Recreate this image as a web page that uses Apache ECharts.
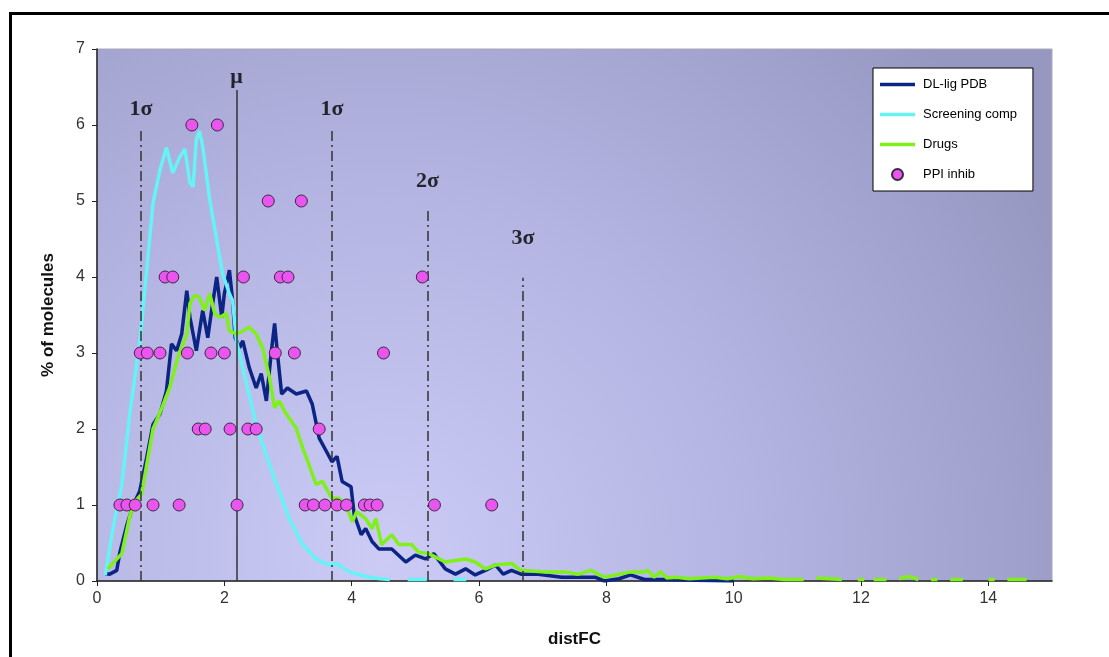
<!DOCTYPE html>
<html>
<head>
<meta charset="utf-8">
<script src="https://cdn.jsdelivr.net/npm/echarts@6/dist/echarts.min.js"></script>
<style>html,body{margin:0;padding:0;background:#fff;}#c{width:1109px;height:657px;}</style>
</head>
<body>
<div id="c"></div>
<script>
// ---- data ----
const xTicks = [0, 2, 4, 6, 8, 10, 12, 14];
const yTicks = [0, 1, 2, 3, 4, 5, 6, 7];

const dlLigPDB = [[0.13,0.1],[0.2,0.09],[0.31,0.14],[0.36,0.38],[0.47,0.74],[0.57,1.0],[0.67,1.18],[0.78,1.62],[0.88,2.06],[0.99,2.2],[1.09,2.5],[1.17,3.12],[1.25,3.03],[1.33,3.25],[1.41,3.82],[1.46,3.47],[1.56,3.03],[1.66,3.56],[1.74,3.2],[1.8,3.56],[1.88,4.0],[1.96,3.47],[2.0,3.78],[2.08,4.09],[2.13,3.69],[2.17,3.2],[2.24,3.07],[2.29,3.16],[2.39,2.81],[2.5,2.54],[2.58,2.73],[2.66,2.37],[2.74,3.03],[2.79,3.39],[2.83,3.03],[2.9,2.46],[2.99,2.54],[3.13,2.46],[3.29,2.5],[3.38,2.33],[3.49,1.88],[3.6,1.71],[3.69,1.57],[3.77,1.64],[3.85,1.31],[3.99,1.24],[4.04,0.87],[4.15,0.61],[4.22,0.69],[4.32,0.52],[4.43,0.42],[4.63,0.42],[4.85,0.25],[5.0,0.34],[5.16,0.29],[5.29,0.36],[5.47,0.16],[5.63,0.09],[5.79,0.16],[5.94,0.08],[6.1,0.14],[6.26,0.21],[6.38,0.09],[6.51,0.14],[6.66,0.09],[6.93,0.09],[7.3,0.05],[7.82,0.05],[7.97,0.0],[8.2,0.03],[8.38,0.08],[8.6,0.02],[9.0,0.02],[9.4,0.01],[10.0,0.0]];

const screeningComp = [[0.13,0.08],[0.25,0.69],[0.39,1.27],[0.52,2.24],[0.67,3.12],[0.72,3.56],[0.78,4.09],[0.88,4.97],[0.99,5.41],[1.09,5.7],[1.19,5.37],[1.3,5.58],[1.38,5.68],[1.46,5.24],[1.51,5.19],[1.56,5.81],[1.61,5.92],[1.66,5.72],[1.77,5.02],[1.88,4.49],[1.97,4.05],[2.08,3.78],[2.13,3.69],[2.19,3.16],[2.35,2.59],[2.5,2.06],[2.71,1.53],[2.86,1.18],[3.02,0.82],[3.23,0.48],[3.44,0.29],[3.65,0.21],[3.76,0.23],[3.96,0.12],[4.27,0.05],[4.45,0.03],[4.6,0.02],[4.7,null],[4.88,0.02],[5.18,0.02],[5.3,null],[5.6,0.02],[5.8,0.02]];

const drugs = [[0.17,0.16],[0.39,0.36],[0.52,0.87],[0.6,1.05],[0.7,1.14],[0.78,1.53],[0.88,2.0],[1.02,2.28],[1.14,2.54],[1.27,2.94],[1.41,3.25],[1.46,3.65],[1.53,3.76],[1.61,3.73],[1.69,3.56],[1.77,3.78],[1.85,3.52],[1.93,3.47],[2.03,3.52],[2.08,3.29],[2.19,3.25],[2.29,3.29],[2.39,3.34],[2.5,3.25],[2.6,3.07],[2.71,2.67],[2.79,2.28],[2.86,2.37],[2.97,2.2],[3.13,2.01],[3.23,1.75],[3.33,1.53],[3.44,1.27],[3.54,1.31],[3.6,1.22],[3.69,1.09],[3.8,1.09],[3.91,1.0],[4.01,0.78],[4.08,0.91],[4.22,0.82],[4.32,0.69],[4.38,0.82],[4.47,0.48],[4.63,0.61],[4.74,0.48],[4.94,0.48],[5.05,0.38],[5.21,0.36],[5.47,0.25],[5.79,0.29],[5.94,0.25],[6.1,0.16],[6.26,0.21],[6.51,0.23],[6.66,0.14],[7.04,0.12],[7.35,0.12],[7.56,0.09],[7.76,0.14],[7.97,0.05],[8.38,0.12],[8.6,0.12],[8.65,0.14],[8.75,0.05],[8.85,0.12],[8.95,0.04],[9.1,0.05],[9.3,0.03],[9.5,0.04],[9.7,0.05],[9.9,0.03],[10.1,0.06],[10.3,0.03],[10.55,0.04],[10.8,0.02],[11.1,0.02],[11.15,null],[11.3,0.04],[11.5,0.03],[11.7,0.02],[11.8,null],[11.95,0.02],[12.05,0.02],[12.1,null],[12.2,0.02],[12.4,0.02],[12.5,null],[12.6,0.03],[12.75,0.06],[12.9,0.02],[13.0,null],[13.1,0.02],[13.2,0.02],[13.3,null],[13.4,0.02],[13.6,0.02],[13.8,null],[14.0,0.02],[14.1,0.02],[14.2,null],[14.3,0.02],[14.6,0.02]];

const ppiInhib = [[1.49,6],[1.89,6],
  [2.69,5],[3.21,5],
  [1.07,4],[1.19,4],[2.30,4],[2.88,4],[3.0,4],[5.11,4],
  [0.68,3],[0.79,3],[0.99,3],[1.42,3],[1.79,3],[2.0,3],[2.8,3],[3.1,3],[4.5,3],
  [1.59,2],[1.70,2],[2.09,2],[2.37,2],[2.5,2],[3.49,2],
  [0.36,1],[0.47,1],[0.6,1],[0.88,1],[1.29,1],[2.2,1],[3.27,1],[3.4,1],[3.58,1],[3.77,1],[3.92,1],[4.2,1],[4.29,1],[4.4,1],[5.3,1],[6.2,1]];

const sigmaNames = ['1σ', 'μ', '1σ', '2σ', '3σ'];
const sigmaX = [0.69, 2.19, 3.69, 5.19, 6.69];
const sigmaTop = [5.96, 6.46, 5.96, 4.91, 3.99];
const sigmaLabelY = [6.2, 6.63, 6.2, 5.26, 4.51];

// ---- chart ----
const chart = echarts.init(document.getElementById('c'));
const serifFont = '"Liberation Serif","DejaVu Serif",serif';
const sansFont = '"Liberation Sans",Arial,sans-serif';
const lineIcon = 'path://M0,0 L35,0 L35,3.5 L0,3.5 Z';

const markLineData = sigmaX.map((x, i) => [
  {coord: [x, 0], lineStyle: {type: sigmaNames[i] === 'μ' ? 'solid' : [10, 4, 2, 4], color: '#333', width: 1.5}},
  {coord: [x, sigmaTop[i]]}
]);

chart.setOption({
  animation: false,
  backgroundColor: '#fff',
  graphic: [{
    type: 'rect', left: 8, top: 11, shape: {width: 1200, height: 800},
    style: {fill: 'none', stroke: '#000', lineWidth: 3}, silent: true
  }],
  grid: {
    left: 97, right: 57, top: 49, bottom: 76, show: true,
    borderColor: '#a8a8b4', borderWidth: 1,
    backgroundColor: {
      type: 'radial', x: 0.3, y: 0.95, r: 1.4,
      colorStops: [
        {offset: 0, color: '#cbcbf6'},
        {offset: 0.5, color: '#b3b4e1'},
        {offset: 1, color: '#9798c2'}
      ]
    }
  },
  legend: {
    orient: 'vertical', left: 873, top: 68,
    backgroundColor: '#fff', borderColor: '#000', borderWidth: 1,
    padding: [10, 16, 10, 7],
    itemWidth: 35, itemHeight: 11, itemGap: 17,
    textStyle: {fontFamily: sansFont, fontSize: 13, color: '#000', padding: [0, 0, 0, 3]},
    data: [
      {name: 'DL-lig PDB', icon: lineIcon},
      {name: 'Screening comp', icon: lineIcon},
      {name: 'Drugs', icon: lineIcon},
      {name: 'PPI inhib', icon: 'circle'}
    ]
  },
  xAxis: {
    type: 'value', min: 0, max: 15, interval: 1,
    name: 'distFC', nameLocation: 'middle', nameGap: 50,
    nameTextStyle: {fontFamily: sansFont, fontSize: 17, fontWeight: 'bold', color: '#111'},
    axisLine: {show: true, lineStyle: {color: '#222', width: 1.5}},
    axisTick: {show: true, length: 5, inside: false, customValues: xTicks, lineStyle: {color: '#222'}},
    axisLabel: {customValues: xTicks, fontFamily: sansFont, fontSize: 16, color: '#333', margin: 10},
    splitLine: {show: false}
  },
  yAxis: {
    type: 'value', min: 0, max: 7, interval: 1,
    name: '% of molecules', nameLocation: 'middle', nameGap: 40, nameRotate: 90,
    nameTextStyle: {fontFamily: sansFont, fontSize: 17, fontWeight: 'bold', color: '#111'},
    axisLine: {show: true, lineStyle: {color: '#222', width: 1.5}},
    axisTick: {show: true, length: 5, lineStyle: {color: '#222'}},
    axisLabel: {fontFamily: sansFont, fontSize: 16, color: '#333', margin: 12},
    splitLine: {show: false}
  },
  series: [
    {
      name: 'sigma', type: 'line', data: [], silent: true, z: 1,
      markLine: {silent: true, symbol: 'none', label: {show: false}, data: markLineData, animation: false}
    },
    {
      name: 'sigmaLabels', type: 'scatter', silent: true, symbolSize: 0, z: 6,
      data: sigmaX.map((x, i) => ({
        value: [x, sigmaLabelY[i]],
        label: {show: true, position: 'inside', formatter: sigmaNames[i],
          fontFamily: serifFont, fontSize: 22, color: '#000',
          fontWeight: 'bold'}
      }))
    },
    {
      name: 'DL-lig PDB', type: 'line', data: dlLigPDB, symbol: 'none', z: 3,
      lineStyle: {color: '#0c2483', width: 3.5}, itemStyle: {color: '#0c2483'}
    },
    {
      name: 'Screening comp', type: 'line', data: screeningComp, symbol: 'none', z: 3,
      lineStyle: {color: '#66f3f6', width: 3.5}, itemStyle: {color: '#66f3f6'}
    },
    {
      name: 'Drugs', type: 'line', data: drugs, symbol: 'none', z: 3,
      lineStyle: {color: '#7ff01a', width: 3.5}, itemStyle: {color: '#7ff01a'}
    },
    {
      name: 'PPI inhib', type: 'scatter', data: ppiInhib, symbol: 'circle', symbolSize: 12, z: 5,
      itemStyle: {color: '#ea55f0', borderColor: '#3a2a40', borderWidth: 1, opacity: 1}
    }
  ]
});
</script>
</body>
</html>
